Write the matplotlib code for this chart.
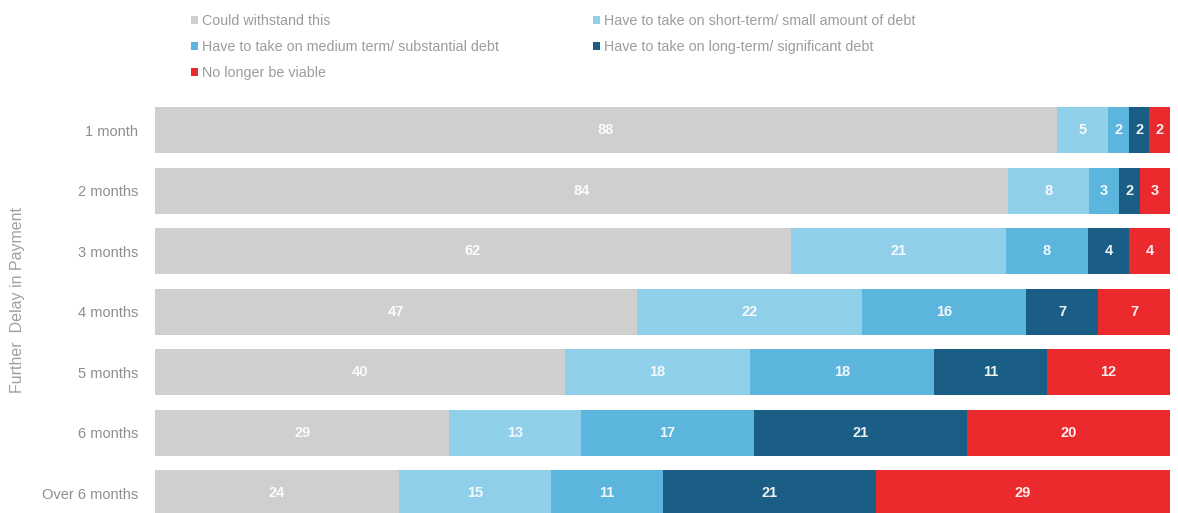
import matplotlib.pyplot as plt
import numpy as np

plt.rcParams['font.family'] = ['Liberation Sans', 'DejaVu Sans']

categories = ['1 month', '2 months', '3 months', '4 months', '5 months', '6 months', 'Over 6 months']
series_names = ['Could withstand this',
                'Have to take on short-term/ small amount of debt',
                'Have to take on medium term/ substantial debt',
                'Have to take on long-term/ significant debt',
                'No longer be viable']
withstand = [88, 84, 62, 47, 40, 29, 24]
short_debt = [5, 8, 21, 22, 18, 13, 15]
medium_debt = [2, 3, 8, 16, 18, 17, 11]
long_debt = [2, 2, 4, 7, 11, 21, 21]
not_viable = [2, 3, 4, 7, 12, 20, 29]

colors = ['#cfcfcf', '#90cfea', '#5cb5dd', '#1b5e85', '#ea2a2c']

fig = plt.figure(figsize=(11.78, 5.13), dpi=100)
ax = fig.add_axes([155 / 1178, 0.0, (1170 - 155) / 1178, (513 - 100) / 513])

series = [withstand, short_debt, medium_debt, long_debt, not_viable]
# 100% stacked: each row is scaled to its own total
totals = np.sum(series, axis=0)

y = np.arange(len(categories))
left = np.zeros(len(categories))
bars = []
for vals, name, col in zip(series, series_names, colors):
    share = np.array(vals) / totals * 100
    b = ax.barh(y, share, left=left, height=0.76, color=col, label=name)
    bars.append(b)
    for yi, (l, w, v) in enumerate(zip(left, share, vals)):
        ax.text(l + w / 2, yi, str(v), ha='center', va='center', color='white',
                fontsize=10.5, fontweight='bold', alpha=0.92)
    left += share

ax.set_xlim(0, 100)
ax.set_ylim(6.33, -0.5)
ax.set_yticks(y)
ax.set_yticklabels(categories, fontsize=10.5, color='#8e8e8e')
ax.tick_params(axis='y', length=0, pad=12)
ax.set_xticks([])
for s in ax.spines.values():
    s.set_visible(False)

fig.text(18 / 1178, 1 - 300 / 513, 'Further  Delay in Payment', rotation=90,
         ha='center', va='center', fontsize=11.5, color='#a0a0a0')

order = [0, 2, 4, 1, 3]
leg = fig.legend([bars[i] for i in order], [series_names[i] for i in order],
                 ncol=2, loc='upper left', bbox_to_anchor=(178 / 1178, 1 - 1 / 513),
                 frameon=False, fontsize=10.3, handlelength=0.5, handleheight=0.5,
                 handletextpad=0.25, labelspacing=0.85, columnspacing=6.6)
for t in leg.get_texts():
    t.set_color('#9c9c9c')

fig.savefig('out.png', dpi=100)
